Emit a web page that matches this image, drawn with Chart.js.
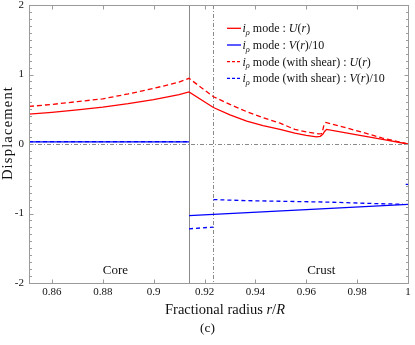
<!DOCTYPE html>
<html>
<head>
<meta charset="utf-8">
<script src="https://cdn.jsdelivr.net/npm/chart.js@4.4.1/dist/chart.umd.min.js"></script>
<style>
  html, body { margin: 0; padding: 0; background: #fff; }
  #wrap { width: 415px; height: 345px; }
</style>
</head>
<body>
<div id="wrap"><canvas id="chart" width="415" height="345"></canvas></div>
<script>
// radii (r/R) and displacements
const coreR = [0.851, 0.86, 0.87, 0.88, 0.89, 0.9, 0.91, 0.9139];
const coreU = [0.43, 0.455, 0.49, 0.53, 0.58, 0.64, 0.71, 0.75];
const coreUShear = [0.54, 0.57, 0.61, 0.65, 0.72, 0.8, 0.89, 0.945];
const coreV = [0.03, 0.03, 0.03, 0.03, 0.03, 0.03, 0.03, 0.03];
const coreVShear = [0.035, 0.035, 0.035, 0.035, 0.035, 0.035, 0.035, 0.035];

const crustR = [0.9139, 0.9235, 0.93, 0.9366, 0.943, 0.9497, 0.9555, 0.96, 0.964, 0.9655, 0.9665, 0.9672, 0.968, 0.98, 0.99, 1.0];
const crustU = [0.75, 0.525, 0.42, 0.33, 0.265, 0.21, 0.155, 0.125, 0.103, 0.11, 0.14, 0.18, 0.21, 0.13, 0.065, 0.0];

const crustShearR = [0.9139, 0.9235, 0.93, 0.9366, 0.943, 0.9497, 0.9555, 0.96, 0.9633, 0.965, 0.966, 0.9665, 0.967, 0.9677, 0.98, 0.99, 1.0];
const crustUShear = [0.945, 0.68, 0.57, 0.465, 0.38, 0.3, 0.21, 0.175, 0.154, 0.145, 0.15, 0.2, 0.28, 0.31, 0.19, 0.085, 0.0];

const crustVR = [0.9139, 0.96, 1.0];
const crustV = [-1.03, -0.944, -0.87];

const innerShearR = [0.9139, 0.9235];
const innerVShear = [-1.22, -1.195];
const outerShearR = [0.9235, 0.9366, 0.9675, 0.9889, 0.998];
const outerVShear = [-0.8, -0.815, -0.835, -0.859, -0.866];
const edgeShearR = [0.9991, 1.0];
const edgeVShear = [-0.58, -0.58];

const coreEdge = 0.9139;
const shearEdge = 0.9235;

const xTicks = [0.86, 0.88, 0.9, 0.92, 0.94, 0.96, 0.98, 1];
const yTicks = [-2, -1, 0, 1, 2];
const yMinorStep = 0.1;

const seriesLabels = [
  '*i*_ρ_ mode : *U*(*r*)',
  '*i*_ρ_ mode : *V*(*r*)/10',
  '*i*_ρ_ mode (with shear) : *U*(*r*)',
  '*i*_ρ_ mode (with shear) : *V*(*r*)/10'
];
const regionLabels = [
  { text: 'Core', r: 0.885, y: -1.8 },
  { text: 'Crust', r: 0.9659, y: -1.8 }
];
const xTitle = 'Fractional radius *r*/*R*';
const yTitle = 'Displacement';
const panelTag = '(c)';

const RED = 'rgb(255, 0, 0)';
const BLUE = 'rgb(0, 0, 255)';
const SERIF = '"Liberation Serif", "DejaVu Serif", serif';

const pts = (rs, vs) => rs.map((r, i) => ({ x: r, y: vs[i] }));
const brk = (r) => ({ x: r, y: null });

const datasets = [
  { data: [...pts(coreR, coreU), ...pts(crustR, crustU).slice(1)], borderColor: RED, borderDash: [] },
  { data: [...pts(coreR, coreV), brk(coreEdge), ...pts(crustVR, crustV)], borderColor: BLUE, borderDash: [] },
  { data: [...pts(coreR, coreUShear), ...pts(crustShearR, crustUShear).slice(1)], borderColor: RED, borderDash: [5, 3] },
  {
    data: [...pts(coreR, coreVShear), brk(coreEdge), ...pts(innerShearR, innerVShear), brk(shearEdge),
      ...pts(outerShearR, outerVShear), brk(0.999), ...pts(edgeShearR, edgeVShear)],
    borderColor: BLUE, borderDash: [4, 3]
  }
].map((d, i) => ({
  ...d,
  label: seriesLabels[i].replace(/[*_]/g, ''),
  borderWidth: 1.3,
  pointRadius: 0,
  tension: 0,
  spanGaps: false,
  fill: false
}));

function richParts(str) {
  const parts = [];
  let it = false, sub = false, buf = '';
  const push = () => { if (buf) parts.push({ t: buf, it, sub }); buf = ''; };
  for (const ch of str) {
    if (ch === '*') { push(); it = !it; }
    else if (ch === '_') { push(); sub = !sub; }
    else buf += ch;
  }
  push();
  return parts;
}

function drawRich(ctx, str, x, y, size, align, spacing = 0) {
  const parts = richParts(str);
  const fontOf = (p) => `${p.it || p.sub ? 'italic ' : ''}${p.sub ? size * 0.7 : size}px ${SERIF}`;
  ctx.letterSpacing = `${spacing}px`;
  let w = 0;
  parts.forEach((p) => { ctx.font = fontOf(p); p.w = ctx.measureText(p.t).width; w += p.w; });
  let cx = align === 'center' ? x - w / 2 : align === 'right' ? x - w : x;
  ctx.textAlign = 'left';
  ctx.textBaseline = 'alphabetic';
  parts.forEach((p) => {
    ctx.font = fontOf(p);
    ctx.fillText(p.t, cx, p.sub ? y + size * 0.22 : y);
    cx += p.w;
  });
  ctx.letterSpacing = '0px';
}

function seg(ctx, x1, y1, x2, y2) {
  ctx.beginPath();
  ctx.moveTo(x1, y1);
  ctx.lineTo(x2, y2);
  ctx.stroke();
}

const decor = {
  id: 'decor',
  beforeDatasetsDraw(chart) {
    const { ctx, chartArea: a, scales: { x, y } } = chart;
    ctx.save();
    ctx.lineWidth = 1;
    ctx.strokeStyle = '#8a8a8a';
    ctx.setLineDash([4, 2, 1, 2]);
    const y0 = Math.round(y.getPixelForValue(0)) + 0.5;
    seg(ctx, a.left, y0, a.right, y0);
    const xs = Math.round(x.getPixelForValue(shearEdge)) + 0.5;
    seg(ctx, xs, a.top, xs, a.bottom);
    ctx.setLineDash([]);
    const xc = Math.round(x.getPixelForValue(coreEdge)) + 0.5;
    seg(ctx, xc, a.top, xc, a.bottom);
    ctx.restore();
  },
  afterDraw(chart) {
    const { ctx, chartArea: a, scales: { x, y } } = chart;
    ctx.save();
    // frame and inward ticks
    ctx.strokeStyle = '#9a9a9a';
    ctx.lineWidth = 1;
    const L = Math.round(a.left) + 0.5, R = Math.round(a.right) + 0.5;
    const T = Math.round(a.top) + 0.5, B = Math.round(a.bottom) + 0.5;
    ctx.strokeRect(L, T, R - L, B - T);
    xTicks.forEach((v) => {
      const px = Math.round(x.getPixelForValue(v)) + 0.5;
      seg(ctx, px, B, px, B - 4);
      seg(ctx, px, T, px, T + 4);
    });
    for (let k = -20; k <= 20; k += 1) {
      const v = k * yMinorStep;
      const len = k % 10 === 0 ? 4 : 2.5;
      const py = Math.round(y.getPixelForValue(v)) + 0.5;
      seg(ctx, L, py, L + len, py);
      seg(ctx, R, py, R - len, py);
    }

    ctx.fillStyle = '#111';
    // region labels
    regionLabels.forEach((lab) => {
      drawRich(ctx, lab.text, x.getPixelForValue(lab.r), y.getPixelForValue(lab.y) + 4.5, 13, 'center');
    });

    // legend
    const lx = a.right - 181;
    seriesLabels.forEach((text, i) => {
      const cy = a.top + 23.3 + i * 16.7;
      ctx.strokeStyle = datasets[i].borderColor;
      ctx.lineWidth = 1.3;
      ctx.setLineDash(i < 2 ? [] : [3, 2]);
      seg(ctx, lx, cy, lx + 14, cy);
      ctx.setLineDash([]);
      drawRich(ctx, text, lx + 15.5, cy + 4, 12, 'left');
    });

    // axis titles
    drawRich(ctx, xTitle, 225, 314, 14.5, 'center');
    drawRich(ctx, panelTag, 207.5, 332, 13.5, 'center');
    ctx.save();
    ctx.translate(12, 133);
    ctx.rotate(-Math.PI / 2);
    drawRich(ctx, yTitle, 0, 0, 14.5, 'center', 1.2);
    ctx.restore();
    ctx.restore();
  }
};

new Chart(document.getElementById('chart'), {
  type: 'line',
  data: { datasets },
  options: {
    responsive: false,
    animation: false,
    devicePixelRatio: 1,
    layout: { padding: { top: 5, right: 7, left: 0, bottom: 0 } },
    plugins: { legend: { display: false }, tooltip: { enabled: false } },
    scales: {
      x: {
        type: 'linear',
        min: 0.851,
        max: 1.0,
        afterBuildTicks: (s) => { s.ticks = xTicks.map((v) => ({ value: v })); },
        afterFit: (s) => { s.height = 62; s.paddingLeft = 0; s.paddingRight = 0; },
        grid: { display: false, drawTicks: false },
        border: { display: false },
        ticks: {
          padding: 3,
          color: '#111',
          font: { family: SERIF, size: 11 },
          maxRotation: 0,
          autoSkip: false,
          callback: (v) => String(+v.toFixed(2))
        }
      },
      y: {
        min: -2,
        max: 2,
        afterBuildTicks: (s) => { s.ticks = yTicks.map((v) => ({ value: v })); },
        afterFit: (s) => { s.width = 29; s.paddingTop = 0; s.paddingBottom = 0; },
        grid: { display: false, drawTicks: false },
        border: { display: false },
        ticks: {
          padding: 5,
          color: '#111',
          font: { family: SERIF, size: 11 },
          callback: (v) => String(v)
        }
      }
    }
  },
  plugins: [decor]
});
</script>
</body>
</html>
